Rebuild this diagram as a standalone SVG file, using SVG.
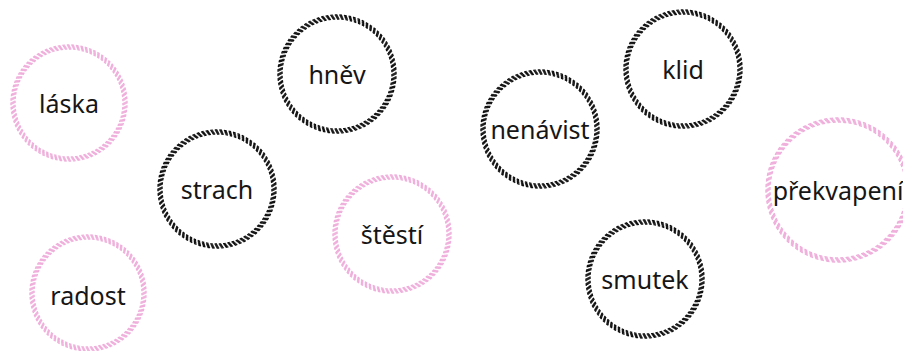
<svg xmlns="http://www.w3.org/2000/svg" width="903" height="351" viewBox="0 0 903 351">
<defs>
<style>
circle{fill:none;stroke-width:1.4;stroke-dasharray:2.6 1.9}
.a{stroke-dashoffset:0}
.b{stroke-dashoffset:0.55}
.c{stroke-dashoffset:1.1}
.d{stroke-dashoffset:1.65}
.e{stroke-dashoffset:2.2}
.pink circle{stroke:#efaedb}
.dark circle{stroke:#111}
text{font-family:"Noto Sans","Liberation Sans",sans-serif;font-size:25px;fill:#161616;text-anchor:middle;dominant-baseline:central}
</style>
</defs>
<rect width="903" height="351" fill="#fff"/>
<g id="laska" class="pink" transform="translate(69,103)">
<circle class="a" r="54" pathLength="360"/><circle class="b" r="55" pathLength="360"/><circle class="c" r="56" pathLength="360"/><circle class="d" r="57" pathLength="360"/><circle class="e" r="58" pathLength="360"/>
<text>láska</text></g>
<g id="radost" class="pink" transform="translate(88,293)">
<circle class="a" r="54" pathLength="360"/><circle class="b" r="55" pathLength="360"/><circle class="c" r="56" pathLength="360"/><circle class="d" r="57" pathLength="360"/><circle class="e" r="58" pathLength="360"/>
<text y="2">radost</text></g>
<g id="strach" class="dark" transform="translate(217,189)">
<circle class="a" r="55" pathLength="360"/><circle class="b" r="56" pathLength="360"/><circle class="c" r="57" pathLength="360"/><circle class="d" r="58" pathLength="360"/><circle class="e" r="59" pathLength="360"/>
<text>strach</text></g>
<g id="hnev" class="dark" transform="translate(337,74)">
<circle class="a" r="55" pathLength="360"/><circle class="b" r="56" pathLength="360"/><circle class="c" r="57" pathLength="360"/><circle class="d" r="58" pathLength="360"/><circle class="e" r="59" pathLength="360"/>
<text>hněv</text></g>
<g id="stesti" class="pink" transform="translate(392,234)">
<circle class="a" r="55" pathLength="360"/><circle class="b" r="56" pathLength="360"/><circle class="c" r="57" pathLength="360"/><circle class="d" r="58" pathLength="360"/><circle class="e" r="59" pathLength="360"/>
<text>štěstí</text></g>
<g id="nenavist" class="dark" transform="translate(540,129)">
<circle class="a" r="55" pathLength="360"/><circle class="b" r="56" pathLength="360"/><circle class="c" r="57" pathLength="360"/><circle class="d" r="58" pathLength="360"/><circle class="e" r="59" pathLength="360"/>
<text>nenávist</text></g>
<g id="klid" class="dark" transform="translate(683,69)">
<circle class="a" r="55" pathLength="360"/><circle class="b" r="56" pathLength="360"/><circle class="c" r="57" pathLength="360"/><circle class="d" r="58" pathLength="360"/><circle class="e" r="59" pathLength="360"/>
<text>klid</text></g>
<g id="smutek" class="dark" transform="translate(645,279)">
<circle class="a" r="55" pathLength="360"/><circle class="b" r="56" pathLength="360"/><circle class="c" r="57" pathLength="360"/><circle class="d" r="58" pathLength="360"/><circle class="e" r="59" pathLength="360"/>
<text>smutek</text></g>
<g id="prekvapeni" class="pink" transform="translate(838,190)">
<circle class="a" r="68" pathLength="360"/><circle class="b" r="69" pathLength="360"/><circle class="c" r="70" pathLength="360"/><circle class="d" r="71" pathLength="360"/><circle class="e" r="72" pathLength="360"/>
<text>překvapení</text></g>
</svg>
